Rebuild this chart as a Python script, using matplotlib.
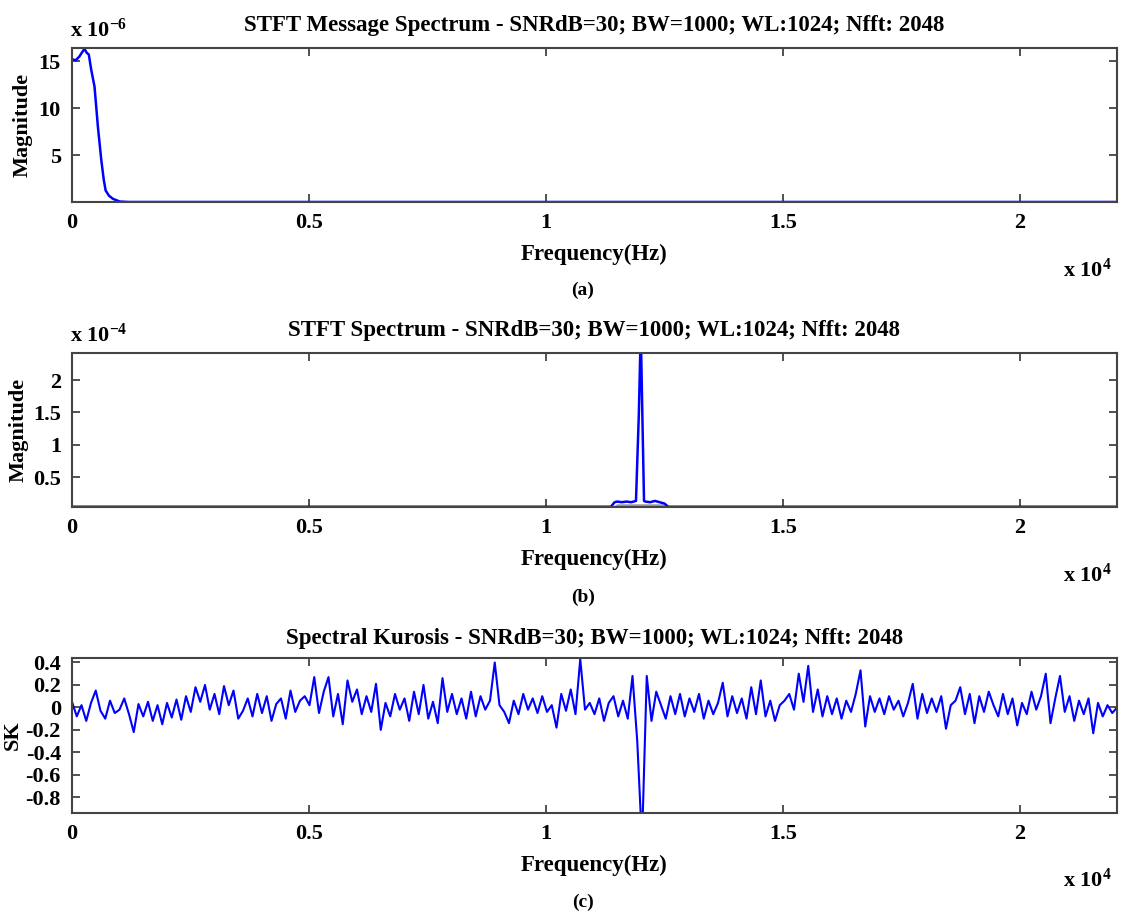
import numpy as np
import matplotlib
matplotlib.use('Agg')
import matplotlib.pyplot as plt

plt.rcParams['font.family'] = ['Liberation Serif', 'DejaVu Serif']
plt.rcParams['font.weight'] = 'bold'
plt.rcParams['mathtext.fontset'] = 'custom'
plt.rcParams['mathtext.rm'] = 'Liberation Serif:bold'
plt.rcParams['mathtext.default'] = 'rm'

fs_half = 22050

# (a) message spectrum, magnitude x 1e-6
msg_f = [0, 80, 156, 220, 263, 310, 355, 405, 475, 547, 618, 670, 710, 780, 866, 1008, 1200, 22050]
msg_mag = [15.2, 15.1, 15.5, 16.0, 16.3, 15.9, 15.7, 14.1, 12.3, 8.0, 4.5, 2.4, 1.25, 0.7, 0.36, 0.08, 0.03, 0.03]

# (b) STFT spectrum, magnitude x 1e-4
spec_f = [0, 11370, 11450, 11500, 11600, 11700, 11800, 11900, 11960, 11990, 12010, 12040, 12070, 12100,
          12200, 12300, 12400, 12500, 12580, 22050]
spec_mag = [0.04, 0.04, 0.11, 0.12, 0.11, 0.12, 0.11, 0.13, 1.46, 2.42, 2.42, 1.26, 0.13, 0.12,
            0.11, 0.13, 0.11, 0.09, 0.04, 0.04]
grey_f = [11420, 11500, 12500, 12560]
grey_mag = [0.04, 0.075, 0.075, 0.04]

# (c) spectral kurtosis, one value per 100 Hz
sk = [0.05, -0.08, 0.02, -0.12, 0.04, 0.15, -0.03, -0.10, 0.06, -0.05,
      -0.02, 0.08, -0.06, -0.22, 0.03, -0.08, 0.05, -0.12, 0.02, -0.15,
      0.04, -0.09, 0.07, -0.11, 0.10, -0.04, 0.18, 0.05, 0.20, -0.02,
      0.12, -0.06, 0.19, 0.02, 0.15, -0.10, -0.03, 0.08, -0.08, 0.12,
      -0.05, 0.10, -0.12, 0.03, 0.08, -0.10, 0.15, -0.04, 0.06, 0.10,
      0.02, 0.27, -0.05, 0.14, 0.27, -0.08, 0.12, -0.15, 0.24, 0.05,
      0.16, -0.06, 0.10, -0.04, 0.21, -0.20, 0.04, -0.08, 0.12, -0.02,
      0.08, -0.12, 0.14, -0.06, 0.20, -0.10, 0.05, -0.14, 0.26, -0.04,
      0.12, -0.06, 0.08, -0.10, 0.14, -0.08, 0.10, -0.02, 0.06, 0.40,
      0.02, -0.04, -0.14, 0.06, -0.06, 0.12, -0.02, 0.08, -0.05, 0.10,
      -0.04, 0.02, -0.18, 0.12, -0.03, 0.16, -0.06, 0.43, -0.02, 0.04,
      -0.06, 0.08, -0.12, 0.04, 0.10, -0.08, 0.06, -0.10, 0.28, -0.30,
      -1.20, 0.28, -0.12, 0.14, 0.02, -0.10, 0.10, -0.06, 0.12, -0.08,
      0.08, -0.04, 0.12, -0.10, 0.06, -0.06, 0.04, 0.22, -0.08, 0.10,
      -0.05, 0.08, -0.10, 0.18, -0.06, 0.24, -0.08, 0.06, -0.12, 0.02,
      0.06, 0.12, -0.02, 0.30, 0.05, 0.37, -0.04, 0.16, -0.08, 0.10,
      -0.06, 0.08, -0.10, 0.06, -0.04, 0.12, 0.33, -0.17, 0.10, -0.04,
      0.08, -0.06, 0.10, -0.02, 0.06, -0.08, 0.04, 0.21, -0.10, 0.12,
      -0.05, 0.08, -0.04, 0.10, -0.19, 0.02, 0.06, 0.18, -0.06, 0.12,
      -0.14, 0.10, -0.04, 0.14, 0.02, -0.08, 0.12, -0.06, 0.08, -0.16,
      0.04, -0.06, 0.14, -0.02, 0.10, 0.30, -0.14, 0.08, 0.28, -0.04,
      0.10, -0.12, 0.06, -0.06, 0.08, -0.23, 0.04, -0.08, 0.02, -0.05,
      0.0]
sk_f = np.linspace(0, fs_half, len(sk))

xticks = [0, 5000, 10000, 15000, 20000]
xlabels = ['0', '0.5', '1', '1.5', '2']
title_tail = ' - SNRdB=30; BW=1000; WL:1024; Nfft: 2048'

fig = plt.figure(figsize=(11.29, 9.22), dpi=100)
W, H = 1129.0, 922.0

def make_ax(top, bottom):
    ax = fig.add_axes([72 / W, 1 - bottom / H, (1117 - 72) / W, (bottom - top) / H])
    ax.set_xlim(0, fs_half)
    ax.set_xticks(xticks)
    ax.set_xticklabels(xlabels)
    ax.tick_params(direction='in', top=True, right=True, length=6, width=1.2,
                   labelsize=16, pad=8, color='#333333')
    for s in ax.spines.values():
        s.set_linewidth(1.5)
        s.set_color('#444444')
    ax.set_xlabel('Frequency(Hz)', fontsize=16.5, fontweight='bold', labelpad=8)
    return ax

# (a)
ax1 = make_ax(48, 202)
ax1.plot(msg_f, msg_mag, color='blue', lw=1.8)
ax1.set_ylim(0.03, 16.4)
ax1.set_yticks([5, 10, 15])
ax1.set_ylabel('Magnitude', fontsize=16, fontweight='bold', labelpad=4)
ax1.set_title('STFT Message Spectrum' + title_tail, fontsize=16.5, fontweight='bold', pad=12)

# (b)
ax2 = make_ax(353, 507)
ax2.fill_between(grey_f, 0.04, grey_mag, color='#999999')
ax2.plot(spec_f, spec_mag, color='blue', lw=1.8)
ax2.set_ylim(0.036, 2.42)
ax2.set_yticks([0.5, 1, 1.5, 2])
ax2.set_yticklabels(['0.5', '1', '1.5', '2'])
ax2.set_ylabel('Magnitude', fontsize=16, fontweight='bold', labelpad=3)
ax2.set_title('STFT Spectrum' + title_tail, fontsize=16.5, fontweight='bold', pad=12)

# (c)
ax3 = make_ax(658, 813)
ax3.plot(sk_f, sk, color='blue', lw=1.5)
ax3.set_ylim(-0.94, 0.44)
ax3.set_yticks([0.4, 0.2, 0, -0.2, -0.4, -0.6, -0.8])
ax3.set_yticklabels(['0.4', '0.2', '0', '-0.2', '-0.4', '-0.6', '-0.8'])
ax3.set_ylabel('SK', fontsize=16, fontweight='bold', labelpad=2)
ax3.set_title('Spectral Kurosis' + title_tail, fontsize=16.5, fontweight='bold', pad=10)

# exponent notes and panel captions
fig.text(70 / W, 1 - 30 / H, r'x 10$^{-6}$', fontsize=16, fontweight='bold', va='center')
fig.text(70 / W, 1 - 335 / H, r'x 10$^{-4}$', fontsize=16, fontweight='bold', va='center')
for yy in (270, 575, 880):
    fig.text(1063 / W, 1 - yy / H, r'x 10$^{4}$', fontsize=16, fontweight='bold', va='center')
for yy, lab in ((290, '(a)'), (597, '(b)'), (902, '(c)')):
    fig.text(583 / W, 1 - yy / H, lab, fontsize=14, fontweight='bold', ha='center', va='center')

fig.savefig('out.png', dpi=100)
